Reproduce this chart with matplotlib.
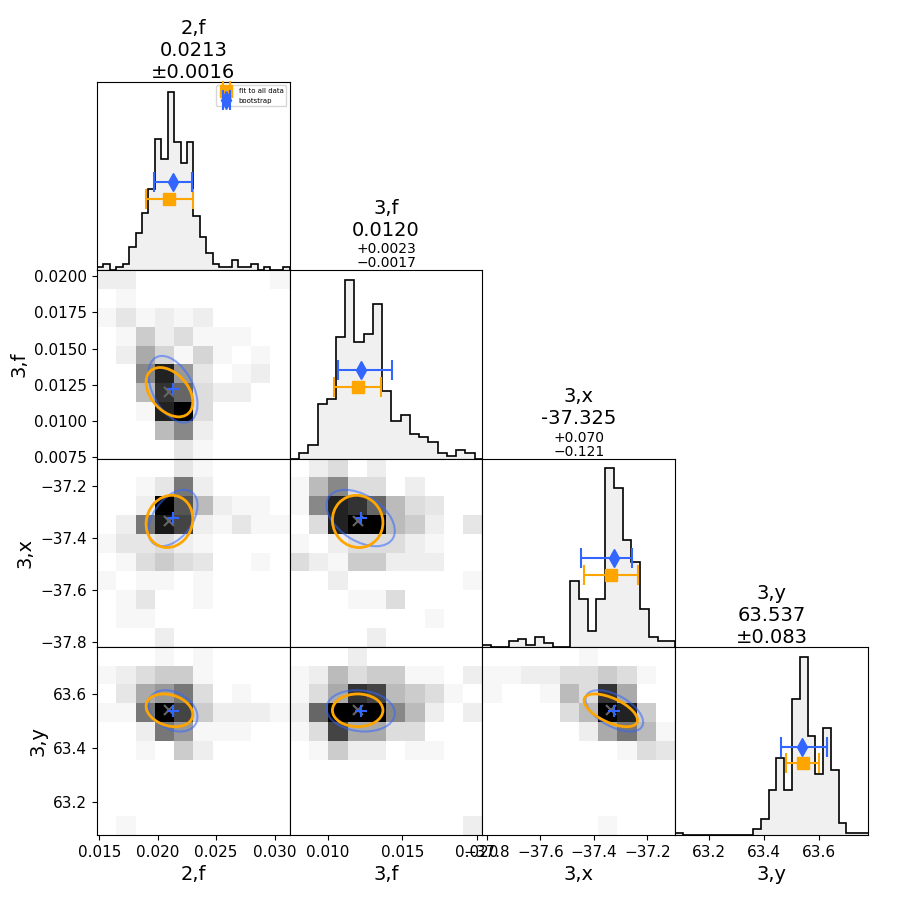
import numpy as np
import matplotlib
matplotlib.use("Agg")
import matplotlib.pyplot as plt
from matplotlib.colors import LinearSegmentedColormap
from matplotlib.patches import Ellipse

# parameters and axis ranges
names = ["2,f", "3,f", "3,x", "3,y"]
limits = [(0.0148, 0.0313), (0.00743, 0.0204), (-37.817, -37.096), (63.076, 63.778)]
hist_ranges = [(0.0148, 0.0313), (0.00743, 0.0205), (-37.817, -37.096), (63.075, 63.785)]
x_ticks = [[0.015, 0.020, 0.025, 0.030],
           [0.010, 0.015, 0.020],
           [-37.8, -37.6, -37.4, -37.2],
           [63.2, 63.4, 63.6]]
y_ticks = [[],
           [0.0075, 0.0100, 0.0125, 0.0150, 0.0175, 0.0200],
           [-37.8, -37.6, -37.4, -37.2],
           [63.2, 63.4, 63.6]]

# titles
title_value = ["0.0213", "0.0120", "-37.325", "63.537"]
title_err = ["±0.0016", "+0.0023\n−0.0017", "+0.070\n−0.121", "±0.083"]

# 1d histograms (counts per bin)
hist_2f = [1, 2, 0, 1, 2, 7, 11, 17, 24, 39, 33, 53, 38, 32, 38, 16, 10, 5, 2, 1,
           1, 3, 1, 1, 2, 0, 1, 0, 0, 1]
hist_3f = [0, 2, 5, 20, 22, 45, 66, 43, 46, 57, 25, 14, 16, 9, 8, 6, 2, 1, 3, 2, 0]
hist_3x = [1, 0, 0, 3, 4, 1, 5, 2, 0, 0, 33, 24, 8, 24, 90, 80, 54, 43, 19, 5, 3, 3]
hist_3y = [1, 0, 0, 0, 0, 0, 0, 0, 0, 0, 3, 8, 22, 38, 22, 67, 88, 49, 30, 53,
           32, 6, 1, 1, 1]

# 2d histograms, rows from top to bottom (10 x 10)
grid_3f_2f = [[2, 2, 0, 0, 0, 0, 0, 0, 0, 1],
              [0, 1, 0, 0, 0, 0, 0, 0, 0, 0],
              [1, 3, 1, 2, 1, 2, 0, 0, 0, 0],
              [0, 1, 6, 2, 4, 1, 1, 1, 0, 0],
              [0, 2, 10, 5, 1, 5, 1, 0, 1, 0],
              [0, 0, 14, 26, 12, 3, 0, 1, 2, 0],
              [0, 0, 8, 24, 18, 4, 2, 2, 0, 0],
              [0, 0, 1, 26, 30, 4, 0, 0, 0, 0],
              [0, 0, 0, 8, 14, 2, 0, 0, 0, 0],
              [0, 0, 0, 0, 3, 1, 0, 0, 0, 0]]
grid_3x_2f = [[0, 0, 0, 0, 3, 1, 0, 0, 0, 0],
              [0, 0, 1, 3, 16, 2, 0, 0, 0, 0],
              [0, 0, 2, 30, 20, 8, 2, 1, 1, 0],
              [0, 2, 16, 27, 22, 2, 1, 3, 1, 1],
              [1, 3, 3, 4, 2, 1, 0, 0, 0, 0],
              [0, 1, 4, 6, 4, 3, 0, 0, 1, 0],
              [1, 0, 1, 1, 0, 1, 0, 0, 0, 0],
              [0, 1, 3, 0, 0, 1, 0, 0, 0, 0],
              [0, 1, 1, 0, 0, 0, 0, 0, 0, 0],
              [0, 0, 0, 2, 0, 0, 0, 0, 0, 0]]
grid_3x_3f = [[0, 2, 4, 0, 2, 0, 0, 0, 0, 0],
              [1, 8, 14, 4, 4, 0, 2, 0, 0, 0],
              [1, 14, 26, 24, 18, 8, 4, 3, 0, 0],
              [0, 4, 26, 30, 30, 8, 6, 2, 0, 3],
              [1, 0, 2, 4, 4, 4, 2, 1, 0, 0],
              [4, 2, 1, 6, 6, 2, 2, 2, 0, 0],
              [0, 0, 2, 0, 0, 0, 0, 0, 0, 1],
              [0, 0, 0, 1, 1, 4, 0, 0, 0, 0],
              [0, 0, 0, 0, 0, 0, 0, 1, 0, 0],
              [0, 0, 0, 0, 2, 0, 0, 0, 0, 0]]
grid_3y_2f = [[0, 0, 0, 1, 0, 1, 0, 0, 0, 0],
              [1, 2, 4, 6, 6, 1, 0, 0, 0, 0],
              [0, 3, 10, 12, 16, 4, 0, 1, 0, 0],
              [1, 1, 16, 30, 22, 6, 2, 2, 2, 1],
              [0, 0, 2, 16, 12, 1, 1, 1, 0, 0],
              [0, 0, 1, 0, 6, 2, 0, 0, 0, 0],
              [0, 0, 0, 0, 0, 0, 0, 0, 0, 0],
              [0, 0, 0, 0, 0, 0, 0, 0, 0, 0],
              [0, 0, 0, 0, 0, 0, 0, 0, 0, 0],
              [0, 1, 0, 0, 0, 0, 0, 0, 0, 0]]
grid_3y_3f = [[0, 0, 0, 2, 0, 0, 0, 0, 0, 0],
              [1, 2, 8, 4, 6, 6, 1, 1, 0, 2],
              [1, 4, 10, 24, 22, 8, 6, 4, 1, 0],
              [2, 18, 30, 30, 30, 14, 8, 2, 0, 2],
              [1, 4, 22, 10, 10, 4, 4, 0, 0, 0],
              [0, 1, 6, 2, 2, 0, 1, 1, 0, 0],
              [0, 0, 0, 0, 0, 0, 0, 0, 0, 0],
              [0, 0, 0, 0, 0, 0, 0, 0, 0, 0],
              [0, 0, 0, 0, 0, 0, 0, 0, 0, 0],
              [0, 0, 0, 0, 0, 0, 0, 0, 0, 2]]
grid_3y_3x = [[0, 0, 0, 0, 0, 1, 0, 0, 0, 0],
              [1, 1, 2, 2, 4, 4, 6, 4, 1, 0],
              [1, 0, 0, 1, 8, 4, 24, 10, 0, 0],
              [0, 0, 0, 0, 4, 8, 30, 26, 6, 0],
              [0, 0, 0, 0, 0, 2, 10, 16, 8, 1],
              [0, 0, 0, 0, 0, 0, 0, 1, 4, 3],
              [0, 0, 0, 0, 0, 0, 0, 0, 0, 0],
              [0, 0, 0, 0, 0, 0, 0, 0, 0, 0],
              [0, 0, 0, 0, 0, 0, 0, 0, 0, 0],
              [0, 0, 0, 0, 0, 0, 1, 0, 0, 0]]

# fit to all data (orange) and bootstrap (blue)
fit_val = [0.0210, 0.0120, -37.337, 63.541]
fit_err = [0.0020, 0.0016, 0.100, 0.060]
fit_sigma = [0.0020, 0.0017, 0.100, 0.061]
boot_val = [0.0213, 0.0122, -37.324, 63.539]
boot_err_lo = [0.0016, 0.0015, 0.123, 0.078]
boot_err_hi = [0.0016, 0.0021, 0.067, 0.091]
boot_sigma = [0.0021, 0.0023, 0.108, 0.077]

# correlations for the lower panels (row, col)
pairs = [(1, 0), (2, 0), (2, 1), (3, 0), (3, 1), (3, 2)]
fit_rho = [-0.40, 0.10, -0.05, -0.25, 0.0, -0.60]
boot_rho = [-0.45, 0.45, -0.45, -0.30, -0.12, -0.55]

hists = [hist_2f, hist_3f, hist_3x, hist_3y]
grids = {(1, 0): grid_3f_2f, (2, 0): grid_3x_2f, (2, 1): grid_3x_3f,
         (3, 0): grid_3y_2f, (3, 1): grid_3y_3f, (3, 2): grid_3y_3x}

ORANGE = "#ffa500"
BLUE = "#3366ff"
cmap = LinearSegmentedColormap.from_list("white_black", ["white", "black"])


def cov_ellipse(ax, cx, cy, sx, sy, rho, **kw):
    cov = np.array([[sx * sx, rho * sx * sy], [rho * sx * sy, sy * sy]])
    vals, vecs = np.linalg.eigh(cov)
    angle = np.degrees(np.arctan2(vecs[1, 1], vecs[0, 1]))
    ax.add_patch(Ellipse((cx, cy), 2 * np.sqrt(vals[1]), 2 * np.sqrt(vals[0]),
                         angle=angle, fill=False, **kw))


n = len(names)
fig, axes = plt.subplots(n, n, figsize=(9, 9), dpi=100)
fig.subplots_adjust(left=0.1078, right=0.9644, bottom=0.0722, top=0.9089,
                    wspace=0, hspace=0)

for i in range(n):
    for j in range(n):
        ax = axes[i, j]
        if j > i:
            ax.set_visible(False)
            continue

        if i == j:
            counts = np.array(hists[i])
            edges = np.linspace(hist_ranges[i][0], hist_ranges[i][1], len(counts) + 1)
            ax.stairs(counts, edges, fill=True, color="#f0f0f0")
            ax.stairs(counts, edges, color="black", lw=1.2)
            ymax = counts.max() * 1.055
            ax.set_ylim(0, ymax)
            ax.set_xlim(limits[i])
            ax.errorbar(fit_val[i], 0.38 * ymax, xerr=fit_err[i],
                        fmt="s", color=ORANGE, ms=8, capsize=7, elinewidth=1.5,
                        capthick=1.5, label="fit to all data", zorder=5)
            ax.errorbar(boot_val[i], 0.47 * ymax,
                        xerr=[[boot_err_lo[i]], [boot_err_hi[i]]],
                        fmt="d", color=BLUE, ms=9, capsize=7, elinewidth=1.5,
                        capthick=1.5, label="bootstrap", zorder=5)
            ax.set_yticks([])

            if title_err[i].startswith("±"):
                ax.set_title(f"{names[i]}\n{title_value[i]}\n{title_err[i]}",
                             fontsize=14, pad=3)
            else:
                ax.set_title(title_err[i], fontsize=10, pad=1, linespacing=1.0)
                ax.annotate(f"{names[i]}\n{title_value[i]}", xy=(0.5, 1),
                            xycoords="axes fraction", xytext=(0, 22),
                            textcoords="offset points", ha="center",
                            va="bottom", fontsize=14)
        else:
            grid = np.flipud(np.array(grids[(i, j)], dtype=float))
            xe = np.linspace(limits[j][0], limits[j][1], grid.shape[1] + 1)
            ye = np.linspace(limits[i][0], limits[i][1], grid.shape[0] + 1)
            ax.pcolormesh(xe, ye, grid, cmap=cmap, vmin=0, vmax=30)
            k = pairs.index((i, j))
            cov_ellipse(ax, boot_val[j], boot_val[i], boot_sigma[j], boot_sigma[i],
                        boot_rho[k], edgecolor=BLUE, lw=1.5, alpha=0.55, zorder=3)
            cov_ellipse(ax, fit_val[j], fit_val[i], fit_sigma[j], fit_sigma[i],
                        fit_rho[k], edgecolor=ORANGE, lw=2, zorder=4)
            ax.plot(fit_val[j], fit_val[i], "x", color="#666666", ms=7, mew=1.5, zorder=5)
            ax.plot(boot_val[j], boot_val[i], "+", color=BLUE, ms=8, mew=1.5, zorder=6)
            ax.set_xlim(limits[j])
            ax.set_ylim(limits[i])

        # ticks only on the outer edges
        if i == n - 1:
            ax.set_xticks(x_ticks[j])
            ax.set_xlabel(names[j], fontsize=14)
        else:
            ax.set_xticks([])
        if j == 0 and i > 0:
            ax.set_yticks(y_ticks[i])
            ax.set_ylabel(names[i], fontsize=14)
        elif i != j:
            ax.set_yticks([])
        ax.tick_params(labelsize=11)
        ax.set_xlim(limits[j])

axes[0, 0].legend(loc="upper right", fontsize=5)

fig.savefig("out.png", dpi=100)
